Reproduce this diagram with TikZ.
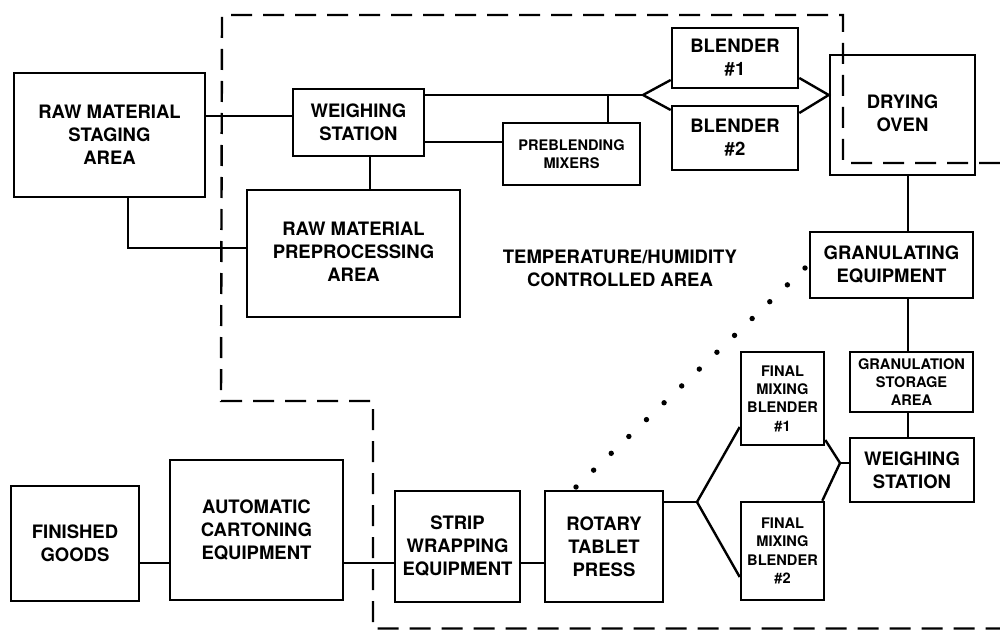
\documentclass[tikz,border=0pt]{standalone}
\usepackage{fontspec}
\setmainfont{TeX Gyre Heros}
\usetikzlibrary{calc}
\newcommand\bigtxt{\fontsize{18.5}{23}\selectfont\bfseries}
\newcommand\smalltxt{\fontsize{14.6}{18.3}\selectfont\bfseries}
\tikzset{
  blk/.style={draw, line width=2.6pt, align=center, inner sep=0pt, font=\bigtxt},
  sblk/.style={blk, font=\smalltxt},
  conn/.style={line width=2.4pt, line join=miter},
  bound/.style={line width=2.4pt, dash pattern=on 21pt off 11pt},
  dotfill/.style={fill=black}
}
\begin{document}
\begin{tikzpicture}[x=1pt,y=-1pt]
\fill[white] (0,0) rectangle (1000,631);
\useasboundingbox (0,0) rectangle (1000,631);

% controlled-area boundary
\draw[bound] (1000,163) -- (843,163) -- (843,15) -- (222,15) -- (221,401) -- (373,401) -- (373,628.5) -- (1000,628.5);

% boxes
\node[blk, minimum width=191pt, minimum height=124pt] (stage) at (109.5,135) {RAW MATERIAL\\STAGING\\AREA};
\node[blk, minimum width=131pt, minimum height=67pt] (weigh1) at (358.5,122.5) {WEIGHING\\STATION};
\node[blk, minimum width=213pt, minimum height=127pt] (prep) at (353.5,253.5) {\raisebox{-4pt}{\begin{tabular}{@{}c@{}}RAW MATERIAL\\PREPROCESSING\\AREA\end{tabular}}};
\node[sblk, minimum width=137pt, minimum height=62pt] (premix) at (571.5,154) {PREBLENDING\\MIXERS};
\node[blk, minimum width=126pt, minimum height=60pt] (bl1) at (735,58) {BLENDER\\\#1};
\node[blk, minimum width=126pt, minimum height=64pt] (bl2) at (735,138) {BLENDER\\\#2};
\node[blk, minimum width=145pt, minimum height=120pt] (oven) at (902.5,115) {\raisebox{4pt}{\begin{tabular}{@{}c@{}}DRYING\\OVEN\end{tabular}}};
\node[blk, minimum width=163pt, minimum height=66pt] (gran) at (891.5,265) {GRANULATING\\EQUIPMENT};
\node[sblk, minimum width=123pt, minimum height=60pt] (store) at (911.5,382) {GRANULATION\\STORAGE\\AREA};
\node[blk, minimum width=124pt, minimum height=64pt] (weigh2) at (912,470) {WEIGHING\\STATION};
\node[sblk, minimum width=83pt, minimum height=93pt] (fm1) at (782.5,398.5) {FINAL\\MIXING\\BLENDER\\\#1};
\node[sblk, minimum width=83pt, minimum height=98pt] (fm2) at (782.5,551) {FINAL\\MIXING\\BLENDER\\\#2};
\node[blk, minimum width=118pt, minimum height=111pt] (press) at (604,546.5) {ROTARY\\TABLET\\PRESS};
\node[blk, minimum width=125pt, minimum height=111pt] (strip) at (457.5,546.5) {STRIP\\WRAPPING\\EQUIPMENT};
\node[blk, minimum width=173pt, minimum height=140pt] (carton) at (256.5,530) {AUTOMATIC\\CARTONING\\EQUIPMENT};
\node[blk, minimum width=128pt, minimum height=115pt] (goods) at (75,543.5) {FINISHED\\GOODS};

\node[font=\bigtxt, align=center, inner sep=0pt] (temp) at (620,268) {TEMPERATURE/HUMIDITY\\CONTROLLED AREA};

% helper coordinates
\coordinate (y116) at (0,116);
\coordinate (y248) at (0,248);
\coordinate (y80) at (0,80);
\coordinate (y110) at (0,110);
\coordinate (y78) at (0,78);
\coordinate (y113) at (0,113);
\coordinate (y142) at (0,142);
\coordinate (y440) at (0,440);
\coordinate (y427) at (0,427);
\coordinate (y577) at (0,577);
\coordinate (y563) at (0,563);
\coordinate (x128) at (128,0);
\coordinate (x370) at (370,0);
\coordinate (x608) at (608,0);
\coordinate (x908) at (908,0);
\coordinate (f1) at (643,95);
\coordinate (f3) at (840,463);
\coordinate (f4) at (697,502);

% connectors
\draw[conn] (stage.east |- y116) -- (weigh1.west |- y116);
\draw[conn] (x128 |- stage.south) |- (prep.west |- y248);
\draw[conn] (x370 |- weigh1.south) -- (x370 |- prep.north);
\draw[conn] (weigh1.east |- f1) -- (f1);
\draw[conn] (bl1.west |- y80) -- (f1) -- (bl2.west |- y110);
\draw[conn] (bl1.east |- y78) -- (oven.west |- f1) -- (bl2.east |- y113);
\draw[conn] (x608 |- f1) -- (x608 |- premix.north);
\draw[conn] (weigh1.east |- y142) -- (premix.west |- y142);
\draw[conn] (x908 |- oven.south) -- (x908 |- gran.north);
\draw[conn] (x908 |- gran.south) -- (x908 |- store.north);
\draw[conn] (x908 |- store.south) -- (x908 |- weigh2.north);
\draw[conn] (weigh2.west |- f3) -- (f3);
\draw[conn] (fm1.east |- y440) -- (f3) -- ([xshift=-3pt]fm2.north east);
\draw[conn] (press.east |- f4) -- (f4);
\draw[conn] (fm1.west |- y427) -- (f4) -- (fm2.west |- y577);
\draw[conn] (goods.east |- y563) -- (carton.west |- y563);
\draw[conn] (carton.east |- y563) -- (strip.west |- y563);
\draw[conn] (strip.east |- y563) -- (press.west |- y563);

% dotted link
\coordinate (d1) at (576,487);
\coordinate (d2) at (805,268);
\foreach \i in {0,...,13} \fill[dotfill] ($(d1)!\i/13!(d2)$) circle (2.7pt);
\end{tikzpicture}
\end{document}
